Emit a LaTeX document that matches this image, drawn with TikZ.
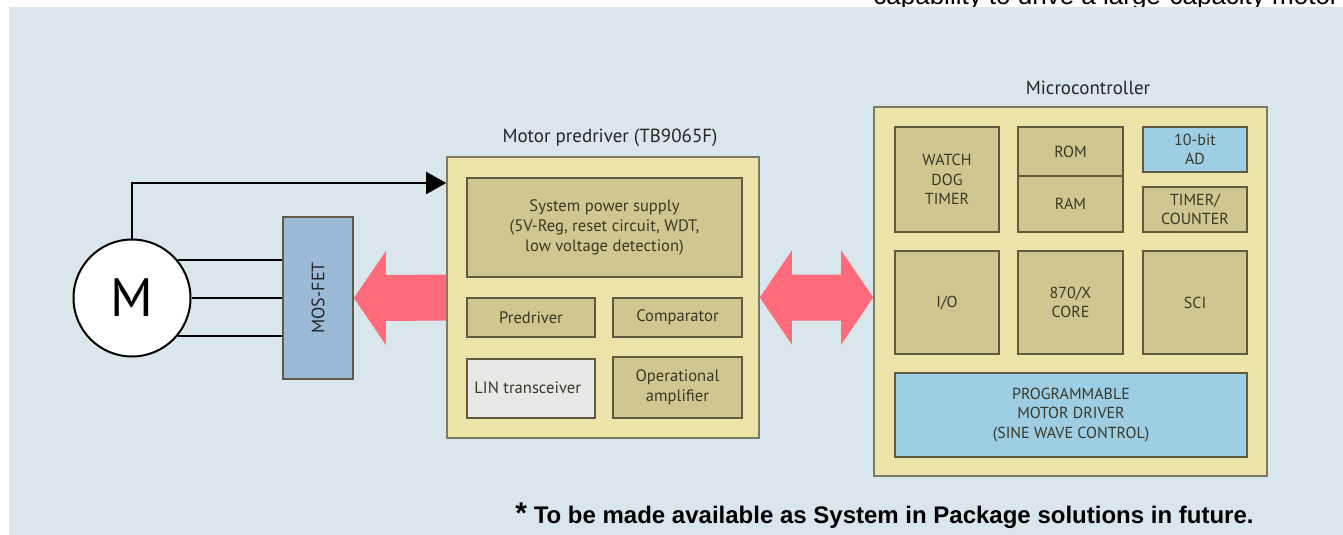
\documentclass[tikz,border=0pt]{standalone}
\usepackage{fontspec}
\setmainfont{PT Sans}
\newfontfamily\notefont{Liberation Sans}
\usetikzlibrary{arrows.meta,positioning,calc}

\definecolor{bgblue}{HTML}{D9E7EC}
\definecolor{chipfill}{HTML}{ECE4A8}
\definecolor{chipedge}{HTML}{7C7A62}
\definecolor{blockfill}{HTML}{CFC78F}
\definecolor{blockedge}{HTML}{5E5B42}
\definecolor{blocktext}{HTML}{3A3828}
\definecolor{adcblue}{HTML}{9DCEE4}
\definecolor{fetblue}{HTML}{9DB9D8}
\definecolor{lingrey}{HTML}{E8E8E6}
\definecolor{arrowpink}{HTML}{FF6B7B}

% box from corner (x1,y1) to corner (x2,y2), in pixels of the picture
\newcommand{\boxat}[7]{\node[#6, minimum width={(#4-#2)*0.5pt}, minimum height={(#5-#3)*0.5pt}]
  (#1) at ({(#2+#4)/2},{(#3+#5)/2}) {#7};}

\tikzset{
  chip/.style={draw=chipedge, fill=chipfill, line width=0.8pt, inner sep=0pt},
  chiptitle/.style={font=\fontsize{9.5}{11}\selectfont, text=black!85},
  block/.style={draw=blockedge, fill=blockfill, line width=0.9pt, inner sep=0pt,
    align=center, text=blocktext, font=\fontsize{8.3}{10}\selectfont},
  mcblock/.style={block, font=\fontsize{8}{9.6}\selectfont},
  wire/.style={line width=1pt, draw=black},
}

\begin{document}
\begin{tikzpicture}[x=0.5pt, y=-0.5pt]
  \useasboundingbox (0,0) rectangle (1343,535);
  % cut-off caption line from above
  \node[anchor=base west, inner sep=0pt, font=\notefont\fontsize{13}{14}\selectfont] (topline)
    at (873,5) {capability to drive a large-capacity motor};
  \fill[bgblue] (9,7) rectangle (1343,535);

  % motor and power stage
  \node[circle, draw, line width=1pt, fill=white, minimum size=58.5pt, inner sep=0pt,
    font=\fontsize{27}{27}\selectfont] (motor) at (132,298) {M};
  \boxat{mosfet}{283}{217}{353}{379}{block, fill=fetblue, font=\fontsize{9}{10}\selectfont, text=black!85}{\rotatebox{90}{MOS-FET}}
  \draw[wire] (motor.40) -- (motor.40 -| mosfet.west);
  \draw[wire] (motor.0) -- (motor.0 -| mosfet.west);
  \draw[wire] (motor.-40) -- (motor.-40 -| mosfet.west);

  % motor predriver
  \boxat{pre}{447}{157}{759}{438}{chip}{}
  \node[chiptitle] (pretitle) at (610,138) {Motor predriver (TB9065F)};
  \boxat{sps}{467}{178}{742}{277}{block}{System power supply\\(5V-Reg, reset circuit, WDT,\\low voltage detection)}
  \boxat{predrv}{467}{298}{595}{337}{block}{Predriver}
  \boxat{comp}{613}{298}{742}{337}{block}{Comparator}
  \boxat{lin}{467}{359}{595}{418}{block, fill=lingrey}{}
  \node[anchor=west, text=blocktext, font=\fontsize{8.3}{10}\selectfont, inner sep=0pt]
    (lintext) at (474,388) {LIN transceiver};
  \boxat{opamp}{613}{357}{742}{418}{block}{Operational\\amplifier}

  % feedback from motor
  \coordinate (fbrow) at (0,183);
  \draw[wire, -{Triangle[length=10pt,width=11pt]}] (motor.north) |- (pre.west |- fbrow);

  % microcontroller
  \boxat{mc}{874}{107}{1267}{476}{chip}{}
  \node[chiptitle] (mctitle) at (1088,88) {Microcontroller};
  \boxat{wdt}{895}{127}{999}{232}{mcblock}{WATCH\\DOG\\TIMER}
  \boxat{rom}{1018}{127}{1123}{176}{mcblock}{ROM}
  \boxat{ram}{1018}{176}{1123}{232}{mcblock}{RAM}
  \boxat{adc}{1143}{127}{1247}{172}{mcblock, fill=adcblue}{10-bit\\AD}
  \boxat{timer}{1143}{187}{1247}{232}{mcblock}{TIMER/\\COUNTER}
  \boxat{io}{895}{251}{999}{354}{mcblock}{I/O}
  \boxat{core}{1018}{251}{1123}{354}{mcblock}{870/X\\CORE}
  \boxat{sci}{1143}{251}{1247}{354}{mcblock}{SCI}
  \boxat{pmd}{895}{373}{1247}{457}{mcblock, fill=adcblue}{PROGRAMMABLE\\MOTOR DRIVER\\(SINE WAVE CONTROL)}

  % big arrows
  \fill[arrowpink] (mosfet.east) -- ++(32,-47) -- ++(0,24) -- ($(pre.west)+(0,-23)$)
    -- ($(pre.west)+(0,23)$) -- ($(mosfet.east)+(32,23)$) -- ++(0,24) -- cycle;
  \fill[arrowpink] (pre.east) -- ++(32,-47) -- ++(0,24) -- ($(mc.west |- pre.east)+(-32,-23)$)
    -- ++(0,-24) -- (mc.west |- pre.east) -- ++(-32,47) -- ++(0,-24)
    -- ($(pre.east)+(32,23)$) -- ++(0,24) -- cycle;

  % footnote
  \node[anchor=base west, inner sep=0pt, font=\notefont\bfseries\fontsize{12}{14}\selectfont] (note)
    at (515,523) {{\fontsize{15}{15}\selectfont *} To be made available as System in Package solutions in future.};
\end{tikzpicture}
\end{document}
